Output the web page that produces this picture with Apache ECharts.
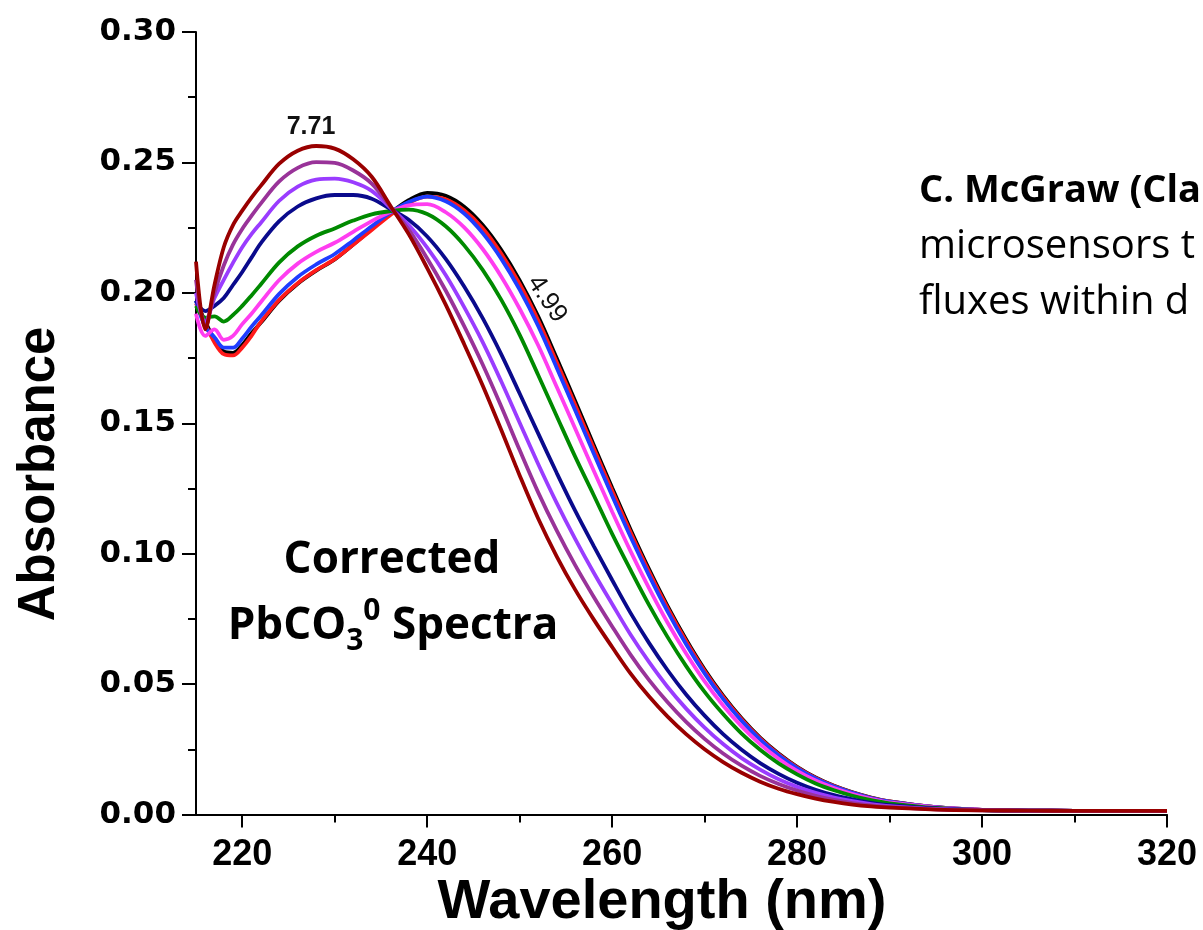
<!DOCTYPE html>
<html>
<head>
<meta charset="utf-8">
<script src="https://cdn.jsdelivr.net/npm/echarts@6/dist/echarts.min.js"></script>
<style>html,body{margin:0;padding:0;background:#fff}#c{width:1203px;height:930px}</style>
</head>
<body>
<div id="c"></div>
<script>
// Wavelength grid (nm)
const wavelength = [215,216,217,218,219,220,221,222,224,226,228,230,232,234,236,238,240,242,244,246,248,250,252,254,256,258,260,262,264,266,268,270,272,274,276,278,280,282,284,286,288,290,295,300,305,310,315,320];

// Absorbance spectra (low pH -> high pH)
const pH499 = [0.197,0.189,0.182,0.1775,0.177,0.180,0.1845,0.1885,0.197,0.2035,0.2085,0.2128,0.2185,0.2245,0.2305,0.2355,0.2383,0.2372,0.2330,0.2260,0.2165,0.2048,0.1910,0.1750,0.1585,0.1418,0.1253,0.1092,0.0940,0.0799,0.0671,0.0556,0.0456,0.0369,0.0295,0.0234,0.0183,0.0142,0.0110,0.0085,0.0065,0.0050,0.0028,0.0018,0.0015,0.0014,0.0013,0.0013];
const specRed = [0.196,0.188,0.181,0.1765,0.176,0.179,0.1835,0.1888,0.1973,0.2037,0.2087,0.2129,0.2184,0.2241,0.2298,0.2344,0.2369,0.2359,0.2317,0.2248,0.2151,0.2034,0.1895,0.1735,0.1571,0.1405,0.1241,0.1081,0.0930,0.0791,0.0664,0.0550,0.0451,0.0365,0.0292,0.0231,0.0181,0.0140,0.0109,0.0084,0.0064,0.0050,0.0028,0.0018,0.0015,0.0014,0.0013,0.0013];
const specBlue = [0.197,0.187,0.183,0.179,0.179,0.1825,0.187,0.1911,0.1996,0.2061,0.2109,0.2149,0.2201,0.2255,0.2307,0.2348,0.2369,0.2351,0.2304,0.2229,0.2131,0.2012,0.1873,0.1713,0.1550,0.1385,0.1222,0.1064,0.0916,0.0778,0.0653,0.0541,0.0443,0.0359,0.0287,0.0227,0.0178,0.0138,0.0107,0.0083,0.0063,0.0049,0.0028,0.0018,0.0015,0.0014,0.0013,0.0013];
const specMagenta = [0.192,0.1835,0.186,0.182,0.1835,0.188,0.192,0.1964,0.2049,0.2112,0.2157,0.2192,0.2234,0.2275,0.2310,0.2335,0.2340,0.2309,0.2251,0.2168,0.2063,0.1939,0.1799,0.1640,0.1480,0.1319,0.1161,0.1009,0.0867,0.0735,0.0617,0.0510,0.0418,0.0338,0.0270,0.0214,0.0167,0.0130,0.0101,0.0078,0.0060,0.0046,0.0027,0.0018,0.0015,0.0014,0.0013,0.0013];
const specGreen = [0.195,0.1905,0.191,0.189,0.1915,0.195,0.199,0.2032,0.2117,0.2178,0.2219,0.2247,0.2277,0.2301,0.2313,0.2319,0.2302,0.2255,0.2182,0.2088,0.1974,0.1839,0.1685,0.1528,0.1372,0.1225,0.1076,0.0937,0.0803,0.0680,0.0569,0.0470,0.0385,0.0310,0.0248,0.0196,0.0154,0.0119,0.0093,0.0072,0.0055,0.0043,0.0025,0.0017,0.0015,0.0014,0.0013,0.0013];
const specNavy = [0.197,0.193,0.195,0.198,0.203,0.208,0.2135,0.2190,0.2275,0.2331,0.2362,0.2375,0.2375,0.2361,0.2322,0.2280,0.2216,0.2130,0.2024,0.1903,0.1765,0.1614,0.1461,0.1310,0.1165,0.1030,0.0899,0.0772,0.0657,0.0553,0.0460,0.0379,0.0308,0.0248,0.0197,0.0156,0.0122,0.0095,0.0074,0.0058,0.0045,0.0036,0.0023,0.0017,0.0015,0.0014,0.0014,0.0014];
const specViolet = [0.200,0.189,0.198,0.205,0.2115,0.2175,0.2225,0.2268,0.2353,0.2407,0.2434,0.2438,0.2424,0.2391,0.2327,0.2260,0.2173,0.2068,0.1945,0.1811,0.1661,0.1502,0.1344,0.1195,0.1057,0.0928,0.0807,0.0689,0.0584,0.0489,0.0406,0.0333,0.0270,0.0216,0.0172,0.0135,0.0106,0.0083,0.0065,0.0051,0.0040,0.0032,0.0021,0.0017,0.0015,0.0014,0.0014,0.0014];
const specPurple = [0.205,0.187,0.200,0.2105,0.2185,0.2245,0.2295,0.2342,0.2427,0.2479,0.2501,0.2498,0.2469,0.2419,0.2331,0.2242,0.2132,0.2009,0.1872,0.1725,0.1565,0.1397,0.1235,0.1089,0.0956,0.0835,0.0721,0.0612,0.0515,0.0430,0.0355,0.0290,0.0234,0.0187,0.0148,0.0117,0.0092,0.0072,0.0056,0.0044,0.0035,0.0029,0.0020,0.0016,0.0015,0.0014,0.0014,0.0014];
const pH771 = [0.212,0.186,0.203,0.2175,0.226,0.2315,0.2365,0.241,0.2495,0.2545,0.2563,0.2553,0.2512,0.2445,0.2335,0.2225,0.2095,0.1955,0.1803,0.1645,0.1475,0.1300,0.1135,0.0990,0.0862,0.0748,0.0642,0.0540,0.0452,0.0375,0.0308,0.0250,0.0201,0.0160,0.0126,0.0099,0.0078,0.0061,0.0048,0.0038,0.0031,0.0026,0.0019,0.0016,0.0015,0.0014,0.0014,0.0014];

// Tick positions
const xMajorTicks = [220,240,260,280,300,320];
const xMinorTicks = [230,250,270,290,310];

const seriesDefs = [
  {name:'pH 4.99', data: pH499, color:'#000000'},
  {name:'spectrum 2', data: specRed, color:'#ff1a1a'},
  {name:'spectrum 3', data: specBlue, color:'#1f3dff'},
  {name:'spectrum 4', data: specMagenta, color:'#ff3df0'},
  {name:'spectrum 5', data: specGreen, color:'#008a00'},
  {name:'spectrum 6', data: specNavy, color:'#0a0a8c'},
  {name:'spectrum 7', data: specViolet, color:'#9a3cff'},
  {name:'spectrum 8', data: specPurple, color:'#993399'},
  {name:'pH 7.71', data: pH771, color:'#990000'}
];

const chart = echarts.init(document.getElementById('c'), null, {renderer:'canvas'});

const axisColor = '#000';
const option = {
  animation: false,
  backgroundColor: '#ffffff',
  grid: {left: 196, right: 36, top: 32, bottom: 115.5, containLabel: false},
  xAxis: [
    {
      type: 'value', min: 215, max: 320, position: 'bottom',
      axisLine: {show: true, onZero: false, lineStyle: {color: axisColor, width: 2}},
      axisTick: {show: true, customValues: xMajorTicks, length: 13, lineStyle: {color: axisColor, width: 2}},
      axisLabel: {show: true, customValues: xMajorTicks, color: '#000', fontFamily: 'Liberation Sans', fontWeight: 'bold', fontSize: 36, margin: 23},
      splitLine: {show: false}
    },
    {
      type: 'value', min: 215, max: 320, position: 'bottom',
      axisLine: {show: false, onZero: false},
      axisTick: {show: true, customValues: xMinorTicks, length: 8, lineStyle: {color: axisColor, width: 2}},
      axisLabel: {show: false},
      splitLine: {show: false}
    }
  ],
  yAxis: {
    type: 'value', min: 0, max: 0.3, interval: 0.05,
    axisLine: {show: true, onZero: false, lineStyle: {color: axisColor, width: 2}},
    axisTick: {show: true, length: 14, lineStyle: {color: axisColor, width: 2}},
    minorTick: {show: true, splitNumber: 2, length: 8, lineStyle: {color: axisColor, width: 2}},
    axisLabel: {formatter: v => v.toFixed(2), color: '#000', fontFamily: 'DejaVu Sans', fontWeight: 'bold', fontSize: 31, margin: 20},
    splitLine: {show: false},
    minorSplitLine: {show: false}
  },
  series: seriesDefs.map((s, k) => ({
    name: s.name,
    type: 'line',
    xAxisIndex: 0,
    data: wavelength.map((w, i) => [w, s.data[i]]),
    showSymbol: false,
    symbol: 'none',
    smooth: 0.35,
    z: 2 + k,
    lineStyle: {color: s.color, width: 3.8},
    itemStyle: {color: s.color}
  })),
  graphic: [
    {type: 'text', x: 40, y: 474, rotation: Math.PI / 2,
     style: {text: 'Absorbance', font: 'bold 51px "Liberation Sans"', fill: '#000', align: 'center', verticalAlign: 'middle', textAlign: 'center', textVerticalAlign: 'middle'}},
    {type: 'text', x: 662, y: 903,
     style: {text: 'Wavelength (nm)', font: 'bold 56px "Liberation Sans"', fill: '#000', align: 'center', verticalAlign: 'middle', textAlign: 'center', textVerticalAlign: 'middle'}},
    {type: 'text', x: 311, y: 127,
     style: {text: '7.71', font: 'bold 25px "Liberation Sans"', fill: '#111', align: 'center', verticalAlign: 'middle', textAlign: 'center', textVerticalAlign: 'middle'}},
    {type: 'text', x: 547, y: 299, rotation: -0.98,
     style: {text: '4.99', font: '26px "Liberation Sans"', fill: '#111', align: 'center', verticalAlign: 'middle', textAlign: 'center', textVerticalAlign: 'middle'}},
    {type: 'text', x: 392, y: 560,
     style: {text: 'Corrected', font: 'bold 44px "Open Sans"', fill: '#000', align: 'center', verticalAlign: 'middle', textAlign: 'center', textVerticalAlign: 'middle'}},
    {type: 'text', x: 393, y: 626,
     style: {
       text: '{m|PbCO}{s|3}{p|0}{m| Spectra}',
       align: 'center', verticalAlign: 'middle', textAlign: 'center', textVerticalAlign: 'middle',
       rich: {
         m: {fontFamily: 'Open Sans', fontWeight: 'bold', fontSize: 44, lineHeight: 60, color: '#000'},
         s: {fontFamily: 'Open Sans', fontWeight: 'bold', fontSize: 30, lineHeight: 30, verticalAlign: 'bottom', color: '#000'},
         p: {fontFamily: 'Open Sans', fontWeight: 'bold', fontSize: 30, lineHeight: 44, verticalAlign: 'top', color: '#000'}
       }
     }},
    {type: 'text', x: 919, y: 191,
     style: {text: 'C. McGraw (Cla', font: 'bold 38px "Open Sans"', fill: '#000', align: 'left', verticalAlign: 'middle', textAlign: 'left', textVerticalAlign: 'middle'}},
    {type: 'text', x: 919, y: 247,
     style: {text: 'microsensors t', font: '40px "Open Sans"', fill: '#000', align: 'left', verticalAlign: 'middle', textAlign: 'left', textVerticalAlign: 'middle'}},
    {type: 'text', x: 919, y: 303,
     style: {text: 'fluxes within d', font: '40px "Open Sans"', fill: '#000', align: 'left', verticalAlign: 'middle', textAlign: 'left', textVerticalAlign: 'middle'}}
  ]
};
chart.setOption(option);
</script>
</body>
</html>
